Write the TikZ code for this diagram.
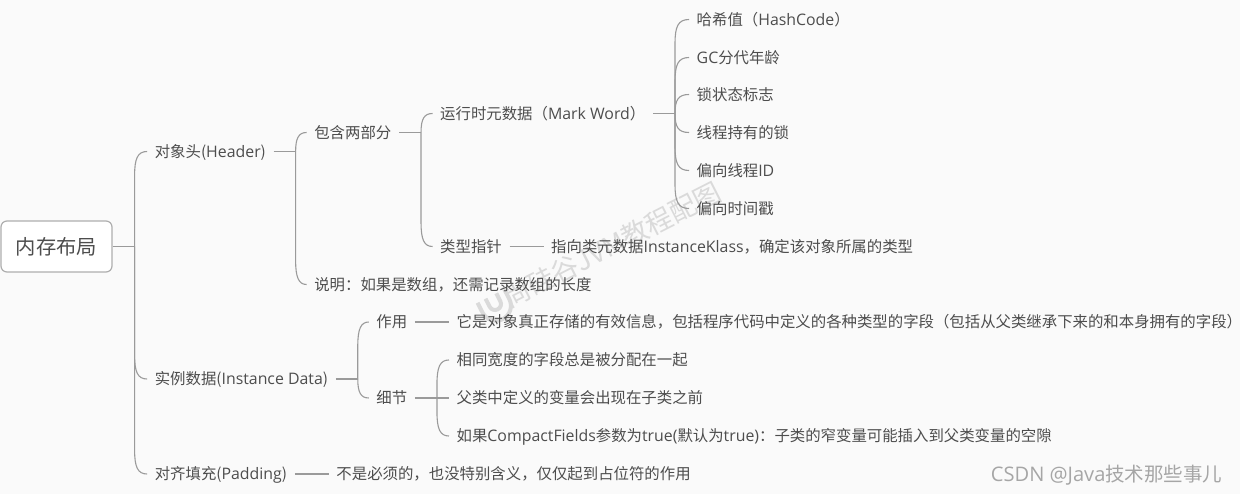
\documentclass[tikz,border=0pt]{standalone}
\usepackage{xcolor}
\usepackage{fontspec}
\setmainfont{Noto Sans CJK SC}
\newfontfamily\lat[Scale=1.03]{Open Sans}
\usetikzlibrary{positioning,calc}
\definecolor{ink}{HTML}{4D4D4D}
\definecolor{wire}{HTML}{9A9A9A}
\definecolor{stamp}{HTML}{DADADA}
\tikzset{
  item/.style={inner xsep=7.5pt,inner ysep=0pt,text height=14pt,text depth=2.4pt,text=ink,font=\fontsize{15.4}{18}\selectfont},
  link/.style={draw=wire,line width=1.1pt},
  rootbox/.style={draw=wire!80,line width=1.2pt,rounded corners=6pt,fill=white,minimum width=111pt,minimum height=51pt,text=ink,font=\fontsize{20.3}{24}\selectfont,inner sep=0pt}
}
% parent stub, then one curved branch per child
\newcommand{\branch}[2]{
  \draw[link] (#1.east) -- ++(22,0) coordinate (fork);
  \foreach \kid in {#2} \draw[link] let \p1=(fork),\p2=(\kid.west),\n1={sign(\y2-\y1)*min(abs(\y2-\y1),24pt)} in
    (fork) -- (\x1,\y2-\n1) .. controls (\x1,\y2-0.3*\n1) and (\x1+3pt,\y2) .. (\x2,\y2);
}
\begin{document}
\begin{tikzpicture}[x=1pt,y=1pt]
  \fill[white!98!black] (0,0) rectangle (1240,-494);
  \useasboundingbox (0,0) rectangle (1240,-494);

  % faint stamp behind the tree
  \node[rotate=27,text=stamp,font=\fontsize{27}{30}\selectfont] (mark) at (612,-245) {尚硅谷JVM教程配图};
  \begin{scope}[shift={(495,-304)},rotate=27]
    \draw[stamp,line width=4pt] (-15,9) -- (-15,-2) arc[start angle=180,end angle=360,radius=15] -- (15,9);
    \draw[stamp,line width=4pt] (-6,9) -- (-6,0) arc[start angle=180,end angle=360,radius=6] -- (6,9);
  \end{scope}

  \node[rootbox] (root) at (56.5,-246.5) {内存布局};

  \node[item,right=34.5pt of root,yshift=95pt] (header) {对象头({\lat Header})};
  \node[item,right=34.5pt of root,yshift=-132.5pt] (inst) {实例数据({\lat Instance Data})};
  \node[item,right=34.5pt of root,yshift=-227.5pt] (pad) {对齐填充({\lat Padding})};
  \node[item,right=34pt of pad] (padnote) {不是必须的，也没特别含义，仅仅起到占位符的作用};

  \node[item,right=33pt of header,yshift=19pt] (parts) {包含两部分};
  \node[item,right=33pt of header,yshift=-133pt] (note) {说明：如果是数组，还需记录数组的长度};
  \node[item,right=33.5pt of parts,yshift=19pt] (mword) {运行时元数据（{\lat Mark Word}）};
  \node[item,right=33.5pt of parts,yshift=-114pt] (kptr) {类型指针};
  \node[item,right=34pt of kptr] (kptrnote) {指向类元数据{\lat InstanceKlass}，确定该对象所属的类型};

  \node[item,right=36pt of mword,yshift=94pt] (hash) {哈希值（{\lat HashCode}）};
  \node[item,right=36pt of mword,yshift=56pt] (age) {{\lat GC}分代年龄};
  \node[item,right=36pt of mword,yshift=19pt] (lock) {锁状态标志};
  \node[item,right=36pt of mword,yshift=-19pt] (owner) {线程持有的锁};
  \node[item,right=36pt of mword,yshift=-57pt] (tid) {偏向线程{\lat ID}};
  \node[item,right=36pt of mword,yshift=-95pt] (tstamp) {偏向时间戳};

  \node[item,right=33pt of inst,yshift=57pt] (use) {作用};
  \node[item,right=34pt of use] (usenote) {它是对象真正存储的有效信息，包括程序代码中定义的各种类型的字段（包括从父类继承下来的和本身拥有的字段）};
  \node[item,right=33pt of inst,yshift=-19pt] (detail) {细节};
  \node[item,right=34pt of detail,yshift=38pt] (same) {相同宽度的字段总是被分配在一起};
  \node[item,right=34pt of detail] (super) {父类中定义的变量会出现在子类之前};
  \node[item,right=34pt of detail,yshift=-38pt] (compact) {如果{\lat CompactFields}参数为{\lat true(}默认为{\lat true)}：子类的窄变量可能插入到父类变量的空隙};

  \node[anchor=east,text=black!35,font=\fontsize{19.5}{22}\selectfont] (csdn) at (1226,-475) {{\lat CSDN @Java}技术那些事儿};

  \branch{root}{header,inst,pad}
  \branch{header}{parts,note}
  \branch{parts}{mword,kptr}
  \branch{mword}{hash,age,lock,owner,tid,tstamp}
  \branch{inst}{use,detail}
  \branch{detail}{same,super,compact}
  \draw[link] (kptr) -- (kptrnote);
  \draw[link] (use) -- (usenote);
  \draw[link] (pad) -- (padnote);
\end{tikzpicture}
\end{document}
